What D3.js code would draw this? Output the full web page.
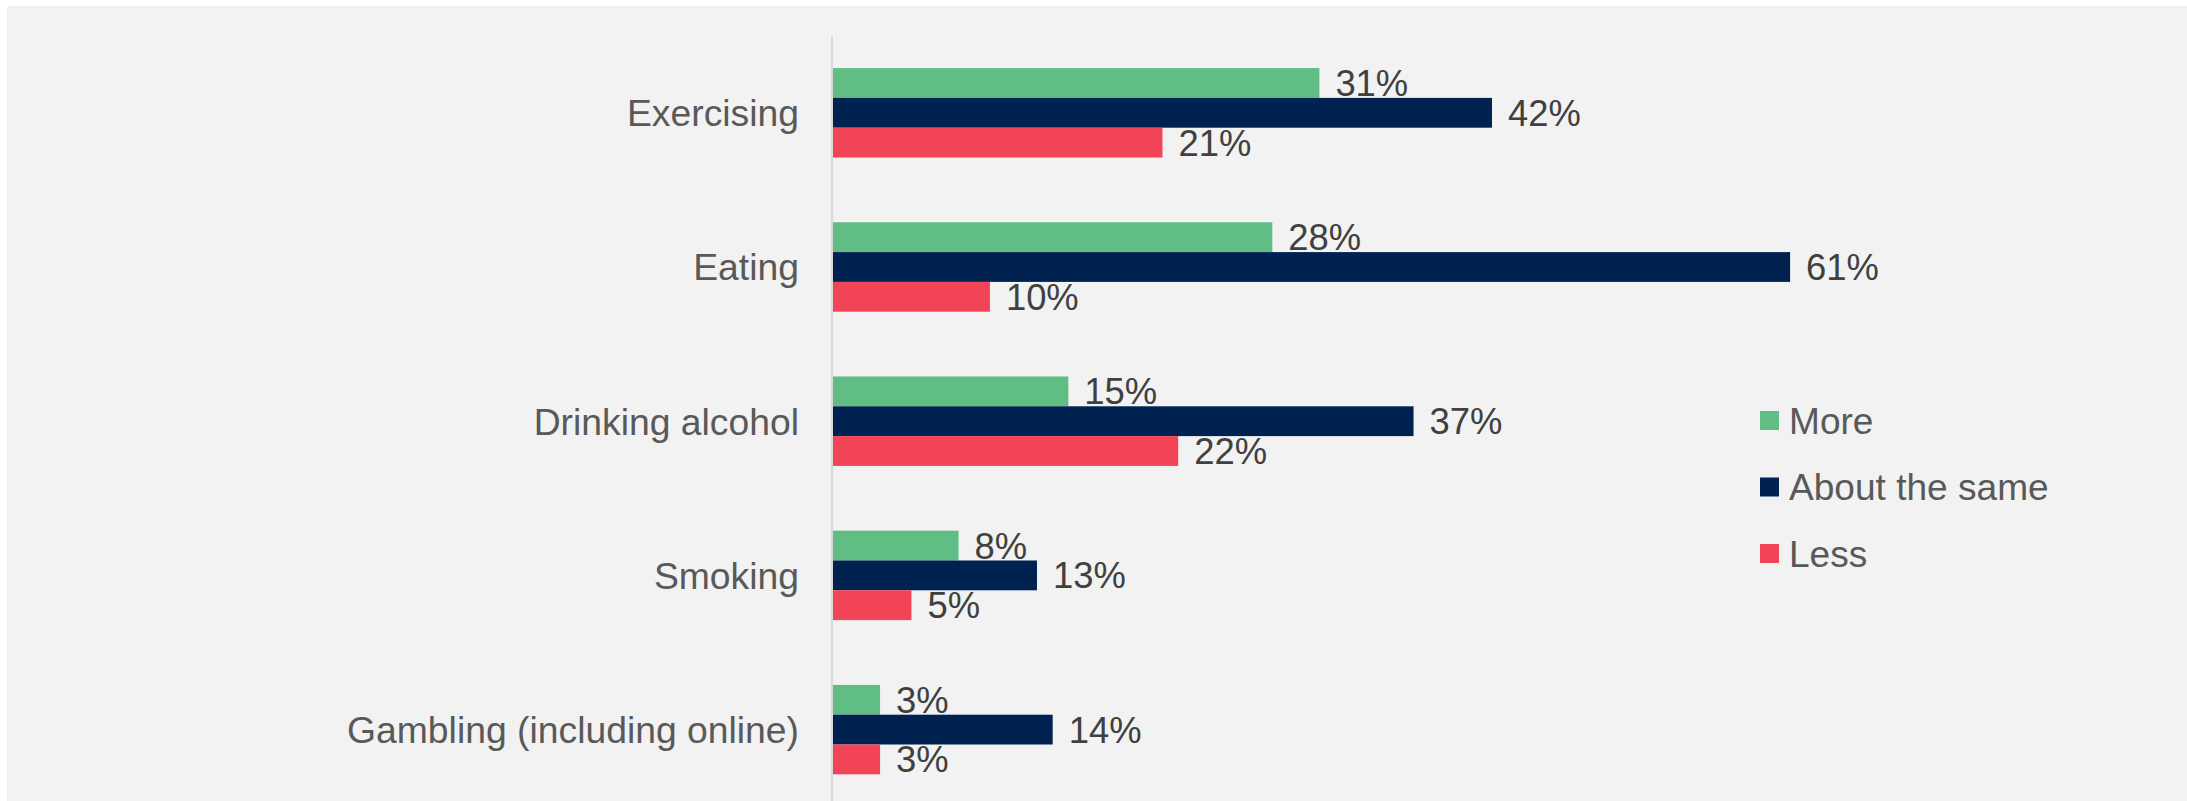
<!DOCTYPE html>
<html>
<head>
<meta charset="utf-8">
<script src="https://cdn.jsdelivr.net/npm/d3@7/dist/d3.min.js"></script>
<style>
  html, body { margin: 0; padding: 0; background: #ffffff; }
  svg { display: block; }
  text { font-family: "Liberation Sans", Arial, sans-serif; }
</style>
</head>
<body>
<svg id="chart" width="2187" height="801"></svg>
<script>
// Behaviour categories, top to bottom
const categories = ["Exercising", "Eating", "Drinking alcohol", "Smoking", "Gambling (including online)"];
// Series, in legend order
const seriesNames = ["More", "About the same", "Less"];
const moreValues = [31, 28, 15, 8, 3];
const sameValues = [42, 61, 37, 13, 14];
const lessValues = [21, 10, 22, 5, 3];
const seriesColors = ["#60bd84", "#002250", "#f24457"];

const W = 2187, H = 801;
const svg = d3.select("#chart");

// panel background with a thin white edge on top and left
svg.append("rect").attr("x", 0).attr("y", 0).attr("width", W).attr("height", H).attr("fill", "#ffffff");
svg.append("rect").attr("x", 7).attr("y", 6).attr("width", W - 7).attr("height", H - 6).attr("fill", "#f2f2f2");

const x0 = 833;
const x = d3.scaleLinear().domain([0, 70]).range([x0, x0 + 70 * 15.69]);

const y = d3.scaleBand()
  .domain(categories)
  .range([35.7, 806.7])
  .paddingInner(0.42)
  .paddingOuter(0.21);

const ySub = d3.scaleBand()
  .domain(seriesNames)
  .range([0, y.bandwidth()]);

const rows = categories.map((c, i) => ({
  category: c,
  values: [moreValues[i], sameValues[i], lessValues[i]]
}));

const FS_CAT = 37.3;
const FS_VAL = 36.4;
const FS_LEG = 37.1;

// category axis line
svg.append("line")
  .attr("x1", x0 - 1).attr("x2", x0 - 1)
  .attr("y1", 36).attr("y2", H)
  .attr("stroke", "#d9d9d9").attr("stroke-width", 2);

// category labels
svg.append("g").selectAll("text")
  .data(categories)
  .join("text")
  .attr("x", 799)
  .attr("y", d => y(d) + y.bandwidth() / 2 + FS_CAT * 0.358)
  .attr("text-anchor", "end")
  .attr("font-size", FS_CAT)
  .attr("fill", "#595959")
  .text(d => d);

// bars and value labels
const groups = svg.append("g").selectAll("g")
  .data(rows)
  .join("g")
  .attr("transform", d => `translate(0,${y(d.category)})`);

const items = d => d.values.map((v, j) => ({ name: seriesNames[j], value: v, color: seriesColors[j] }));

groups.selectAll("rect")
  .data(items)
  .join("rect")
  .attr("x", x(0))
  .attr("y", d => ySub(d.name))
  .attr("width", d => x(d.value) - x(0))
  .attr("height", ySub.bandwidth())
  .attr("fill", d => d.color);

groups.selectAll("text")
  .data(items)
  .join("text")
  .attr("x", d => x(d.value) + 16)
  .attr("y", d => ySub(d.name) + ySub.bandwidth() / 2 + FS_VAL * 0.358)
  .attr("font-size", FS_VAL)
  .attr("fill", "#404040")
  .text(d => d.value + "%");

// legend
const legend = svg.append("g").attr("transform", "translate(1760,411)");
const leg = legend.selectAll("g")
  .data(seriesNames)
  .join("g")
  .attr("transform", (d, i) => `translate(0,${i * 66.5})`);
leg.append("rect")
  .attr("width", 19).attr("height", 19)
  .attr("fill", (d, i) => seriesColors[i]);
leg.append("text")
  .attr("x", 29)
  .attr("y", 9.5 + FS_LEG * 0.358)
  .attr("font-size", FS_LEG)
  .attr("fill", "#595959")
  .text(d => d);
</script>
</body>
</html>
